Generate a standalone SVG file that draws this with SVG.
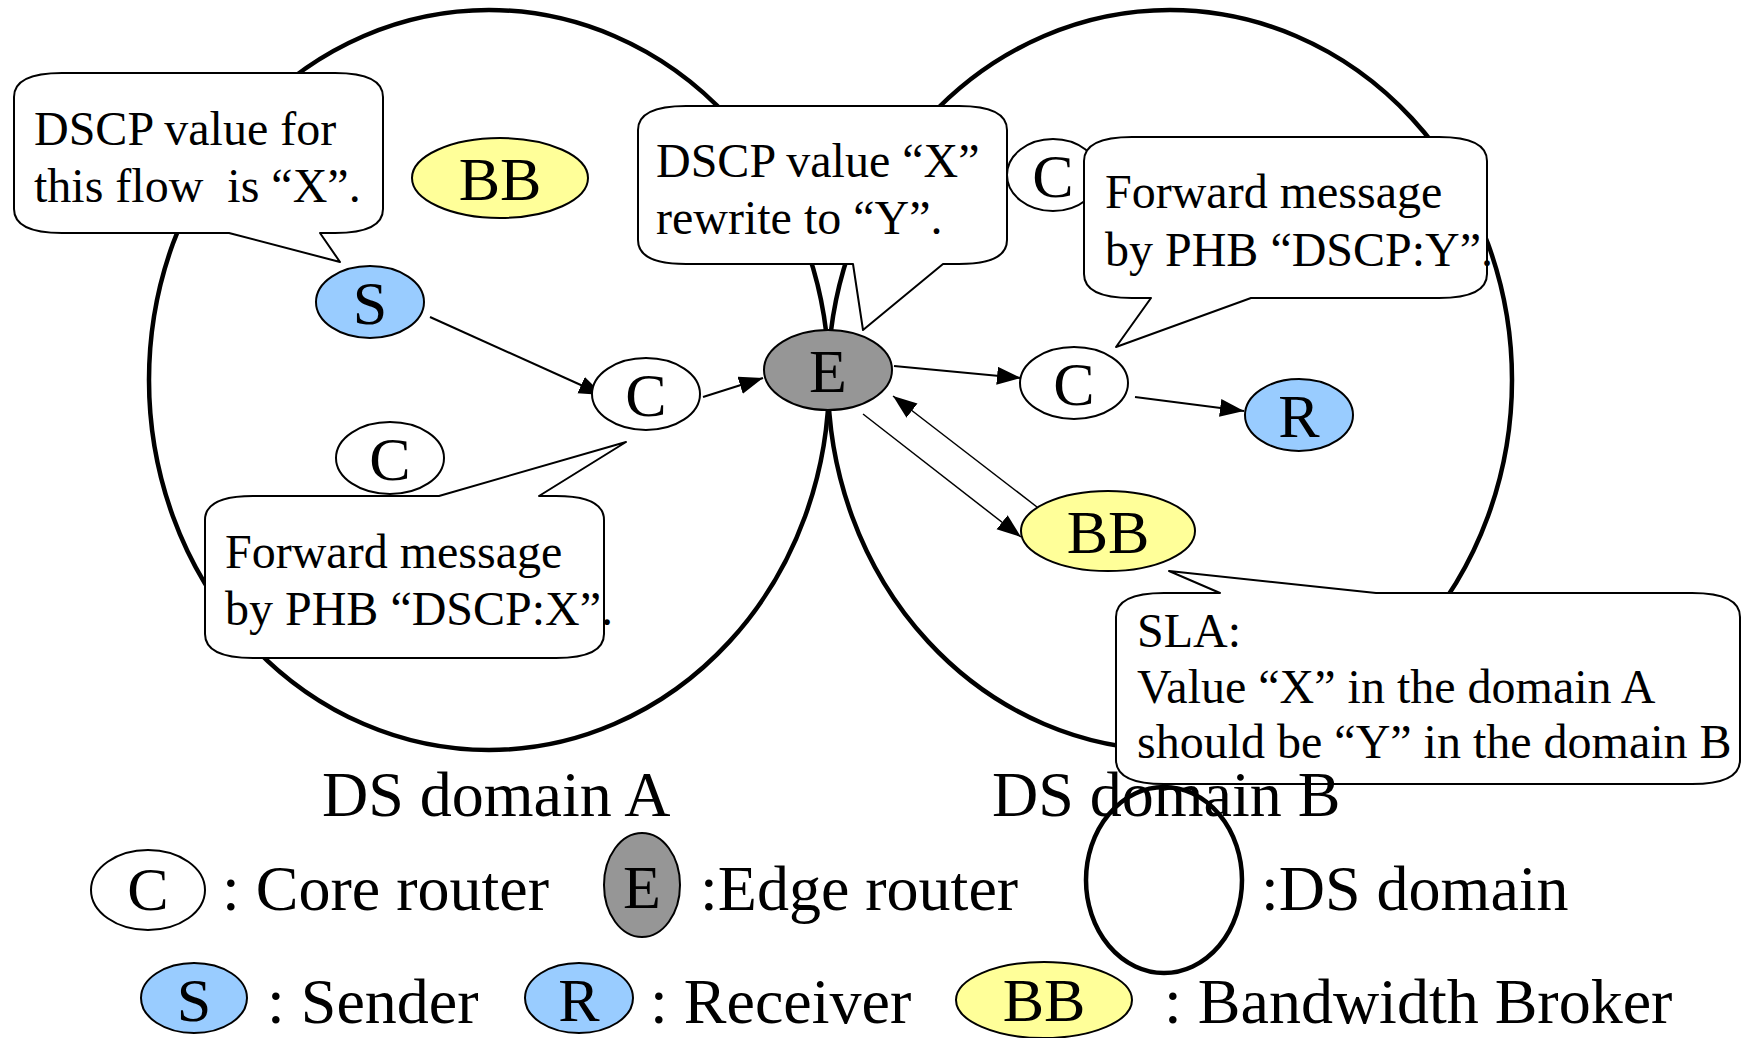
<svg xmlns="http://www.w3.org/2000/svg" width="1742" height="1038" viewBox="0 0 1742 1038">
  <style>
    .domain { fill: none; stroke: #000; stroke-width: 4.5; }
    .node { stroke: #000; stroke-width: 2; }
    .core { fill: #fff; }
    .edge { fill: #969696; }
    .host { fill: #99ccff; }
    .broker { fill: #ffff99; }
    .callout { fill: #fff; stroke: #000; stroke-width: 2; stroke-linejoin: round; }
    .lbl { font-family: "Liberation Serif", "Times New Roman", serif; fill: #000; }
    .big { font-size: 64px; }
    .mid { font-size: 48px; }
    .nl { font-size: 62px; text-anchor: middle; }
    .conn { stroke: #000; stroke-width: 2; fill: none; marker-end: url(#arrow); }
    .conn.thin { stroke-width: 1.5; }
  </style>
  <defs>
    <marker id="arrow" markerUnits="userSpaceOnUse" markerWidth="26" markerHeight="20" refX="24" refY="9" orient="auto">
      <path d="M0,0 L24,9 L0,18 Z" fill="#000"/>
    </marker>
  </defs>

  <rect width="1742" height="1038" fill="#fff"/>

  <!-- DS domains -->
  <g id="domains">
    <ellipse id="domain-a" class="domain" cx="489" cy="380" rx="340" ry="370"/>
    <ellipse id="domain-b" class="domain" cx="1170" cy="380" rx="342" ry="370"/>
  </g>

  <!-- connectors -->
  <g id="connectors">
    <line class="conn" x1="430" y1="317" x2="603" y2="395"/>
    <line class="conn" x1="703" y1="397" x2="763" y2="378"/>
    <line class="conn" x1="894" y1="366" x2="1021" y2="378"/>
    <line class="conn" x1="1135" y1="397" x2="1244" y2="411"/>
    <line class="conn thin" x1="863" y1="414" x2="1021" y2="537"/>
    <line class="conn thin" x1="1037" y1="507" x2="893" y2="396"/>
  </g>

  <!-- nodes -->
  <g id="node-bb-a">
    <ellipse class="node broker" cx="500" cy="178" rx="88" ry="40"/>
    <text class="lbl nl" x="500" y="200">BB</text>
  </g>
  <g id="node-s">
    <ellipse class="node host" cx="370" cy="302" rx="54" ry="36"/>
    <text class="lbl nl" x="370" y="324">S</text>
  </g>
  <g id="node-c-a1">
    <ellipse class="node core" cx="646" cy="394" rx="54" ry="36"/>
    <text class="lbl nl" x="646" y="416">C</text>
  </g>
  <g id="node-c-a2">
    <ellipse class="node core" cx="390" cy="458" rx="54" ry="36"/>
    <text class="lbl nl" x="390" y="480">C</text>
  </g>
  <g id="node-e">
    <ellipse class="node edge" cx="828" cy="370" rx="64" ry="40"/>
    <text class="lbl nl" x="828" y="392">E</text>
  </g>
  <g id="node-c-b1">
    <ellipse class="node core" cx="1053" cy="175" rx="46" ry="36"/>
    <text class="lbl nl" x="1053" y="197">C</text>
  </g>
  <g id="node-c-b2">
    <ellipse class="node core" cx="1074" cy="383" rx="54" ry="36"/>
    <text class="lbl nl" x="1074" y="405">C</text>
  </g>
  <g id="node-r">
    <ellipse class="node host" cx="1299" cy="415" rx="54" ry="36"/>
    <text class="lbl nl" x="1299" y="437">R</text>
  </g>
  <g id="node-bb-b">
    <ellipse class="node broker" cx="1108" cy="531" rx="87" ry="40"/>
    <text class="lbl nl" x="1108" y="553">BB</text>
  </g>

  <!-- callouts -->
  <g id="callout-sender">
    <path class="callout" d="M62,73 H335 Q383,73 383,97 V209 Q383,233 335,233 H320 L340,262 L229,233 H62 Q14,233 14,209 V97 Q14,73 62,73 Z"/>
    <text class="lbl mid" x="34" y="145">DSCP value for</text>
    <text class="lbl mid" x="34" y="202" xml:space="preserve">this flow  is “X”.</text>
  </g>
  <g id="callout-edge">
    <path class="callout" d="M686,106 H959 Q1007,106 1007,130 V240 Q1007,264 959,264 H943 L863,330 L853,264 H686 Q638,264 638,240 V130 Q638,106 686,106 Z"/>
    <text class="lbl mid" x="656" y="177">DSCP value “X”</text>
    <text class="lbl mid" x="656" y="234">rewrite to “Y”.</text>
  </g>
  <g id="callout-core-b">
    <path class="callout" d="M1132,137 H1439 Q1487,137 1487,161 V274 Q1487,298 1439,298 H1251 L1116,347 L1151,298 H1132 Q1084,298 1084,274 V161 Q1084,137 1132,137 Z"/>
    <text class="lbl mid" x="1105" y="208">Forward message</text>
    <text class="lbl mid" x="1105" y="266">by PHB “DSCP:Y”.</text>
  </g>
  <g id="callout-core-a">
    <path class="callout" d="M253,496 H439 L626,442 L539,496 H556 Q604,496 604,520 V634 Q604,658 556,658 H253 Q205,658 205,634 V520 Q205,496 253,496 Z"/>
    <text class="lbl mid" x="225" y="568">Forward message</text>
    <text class="lbl mid" x="225" y="625">by PHB “DSCP:X”.</text>
  </g>
  <g id="callout-sla">
    <path class="callout" d="M1164,593 H1220 L1169,571 L1376,593 H1692 Q1740,593 1740,617 V760 Q1740,784 1692,784 H1164 Q1116,784 1116,760 V617 Q1116,593 1164,593 Z"/>
    <text class="lbl mid" x="1137" y="647">SLA:</text>
    <text class="lbl mid" x="1137" y="703">Value “X” in the domain A</text>
    <text class="lbl mid" x="1137" y="758">should be “Y” in the domain B</text>
  </g>

  <!-- domain names -->
  <g id="domain-labels">
    <text class="lbl big" x="322" y="816">DS domain A</text>
    <text class="lbl big" x="992" y="816">DS domain B</text>
  </g>

  <!-- legend -->
  <g id="legend">
    <ellipse class="node core" cx="148" cy="890" rx="57" ry="40"/>
    <text class="lbl nl" x="148" y="910">C</text>
    <text class="lbl big" x="222" y="910">: Core router</text>

    <ellipse class="node edge" cx="642" cy="885" rx="38" ry="52"/>
    <text class="lbl nl" x="642" y="908">E</text>
    <text class="lbl big" x="700" y="910">:Edge router</text>

    <ellipse class="domain" cx="1164" cy="880" rx="78" ry="93"/>
    <text class="lbl big" x="1261" y="910">:DS domain</text>

    <ellipse class="node host" cx="194" cy="998" rx="53" ry="35"/>
    <text class="lbl nl" x="194" y="1021">S</text>
    <text class="lbl big" x="267" y="1023">: Sender</text>

    <ellipse class="node host" cx="579" cy="998" rx="54" ry="35"/>
    <text class="lbl nl" x="579" y="1021">R</text>
    <text class="lbl big" x="650" y="1023">: Receiver</text>

    <ellipse class="node broker" cx="1044" cy="1000" rx="88" ry="38"/>
    <text class="lbl nl" x="1044" y="1021">BB</text>
    <text class="lbl big" x="1164" y="1023">: Bandwidth Broker</text>
  </g>
</svg>
